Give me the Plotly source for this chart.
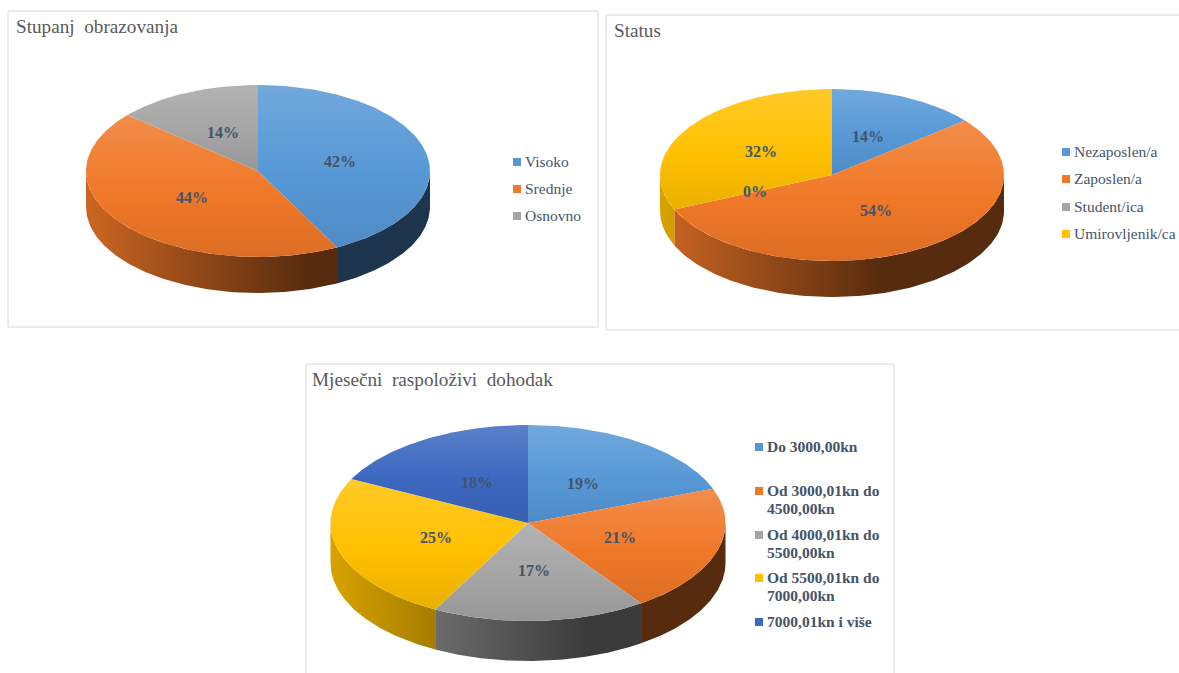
"""Three tilted 3D-look pies built on a page-sized Plotly axis."""

import numpy as np
import plotly.graph_objects as go

# ----------------------------------------------------------------------
# Data
# ----------------------------------------------------------------------
EDU_TITLE = "Stupanj\u00a0 obrazovanja"
EDU_LABELS = ["Visoko", "Srednje", "Osnovno"]
EDU_VALUES = [42.4, 43.9, 13.7]

STATUS_TITLE = "Status"
STATUS_LABELS = ["Nezaposlen/a", "Zaposlen/a", "Student/ica", "Umirovljenik/ca"]
STATUS_VALUES = [14.05, 54.4, 0.0, 31.55]

INCOME_TITLE = "Mjesečni\u00a0 raspoloživi\u00a0 dohodak"
INCOME_LABELS = [
    "Do 3000,00kn",
    "Od 3000,01kn do<br>4500,00kn",
    "Od 4000,01kn do<br>5500,00kn",
    "Od 5500,01kn do<br>7000,00kn",
    "7000,01kn i više",
]
INCOME_VALUES = [19.3, 21.0, 17.49, 24.61, 17.6]

# Office palette, in slice order.
BLUE, ORANGE, GREY, YELLOW, DARK_BLUE = (
    (86, 152, 214), (240, 120, 40), (165, 165, 165), (255, 192, 0), (60, 104, 192),
)
COLOURS = [BLUE, ORANGE, GREY, YELLOW, DARK_BLUE]

# ----------------------------------------------------------------------
# Page layout (axis units are page pixels)
# ----------------------------------------------------------------------
WIDTH, HEIGHT = 1179, 673
SERIF = "Liberation Serif"
TEXT_COLOUR = "#44546a"
LABEL_RADIUS = 0.49
LEGEND_LINE = 18

CHARTS = [
    dict(title=EDU_TITLE, labels=EDU_LABELS, values=EDU_VALUES,
         box=(8, 11, 598, 327), title_xy=(14, 26),
         cx=258, cy=171, rx=172, ry=86, depth=36,
         legend_x=517, legend_y=[161, 188, 215], legend_weight=400),
    dict(title=STATUS_TITLE, labels=STATUS_LABELS, values=STATUS_VALUES,
         box=(606, 15, 1190, 330), title_xy=(612, 30),
         cx=832, cy=175, rx=172, ry=86, depth=36,
         legend_x=1066, legend_y=[151, 178, 206, 233], legend_weight=400),
    dict(title=INCOME_TITLE, labels=INCOME_LABELS, values=INCOME_VALUES,
         box=(306, 364, 894, 690), title_xy=(310, 379),
         cx=528, cy=523, rx=197.5, ry=98, depth=40,
         legend_x=759, legend_y=[446, 490, 534, 577, 621], legend_weight=700),
]


def scale(rgb, k):
    return "rgb({},{},{})".format(*[int(min(255, c * k)) for c in rgb])


def tint(rgb, k):
    return "rgb({},{},{})".format(*[int(c + (255 - c) * k) for c in rgb])


def ellipse(chart, theta, drop=0.0):
    """Point on the pie rim; theta is clockwise from 12 o'clock, in radians."""
    return (chart["cx"] + chart["rx"] * np.sin(theta),
            chart["cy"] - chart["ry"] * np.cos(theta) + drop)


def add_walls(fig, chart, starts, ends):
    left = chart["cx"] - chart["rx"]
    right = chart["cx"] + chart["rx"]
    for i, (a, b) in enumerate(zip(starts, ends)):
        # only the front half of the rim is visible
        lo, hi = max(a, np.pi / 2), min(b, 3 * np.pi / 2)
        if hi <= lo:
            continue
        t = np.linspace(lo, hi, 120)
        xt, yt = ellipse(chart, t)
        xb, yb = ellipse(chart, t[::-1], chart["depth"])
        base = COLOURS[i]
        fig.add_trace(go.Scatter(
            x=np.r_[xt, xb], y=np.r_[yt, yb],
            mode="lines", line=dict(width=0), fill="toself",
            fillgradient=dict(
                type="horizontal", start=left, stop=right,
                colorscale=[[0, scale(base, 0.85)], [0.65, scale(base, 0.36)],
                            [1, scale(base, 0.36)]],
            ),
            hoverinfo="skip", showlegend=False,
        ))


def add_tops(fig, chart, starts, ends):
    for i, (a, b) in enumerate(zip(starts, ends)):
        if b <= a:
            continue
        t = np.linspace(a, b, 160)
        xr, yr = ellipse(chart, t)
        base = COLOURS[i]
        # the y axis is reversed, so 0 is the bottom edge of the slice
        fig.add_trace(go.Scatter(
            x=np.r_[chart["cx"], xr, chart["cx"]],
            y=np.r_[chart["cy"], yr, chart["cy"]],
            mode="lines", line=dict(width=0), fill="toself",
            fillgradient=dict(
                type="vertical",
                colorscale=[[0, scale(base, 0.92)], [0.45, scale(base, 1.0)],
                            [1, tint(base, 0.16)]],
            ),
            hovertemplate=f"{chart['labels'][i]}: {chart['values'][i]:.0f}%<extra></extra>",
            showlegend=False,
        ))


def add_value_labels(fig, chart, starts, ends):
    for a, b, v in zip(starts, ends, chart["values"]):
        mid = (a + b) / 2
        x = chart["cx"] + LABEL_RADIUS * chart["rx"] * np.sin(mid)
        y = chart["cy"] - LABEL_RADIUS * chart["ry"] * np.cos(mid)
        fig.add_annotation(
            x=x, y=y, text=f"<b>{round(v)}%</b>", showarrow=False,
            font=dict(family=SERIF, size=16, color=TEXT_COLOUR),
        )


def add_legend(fig, chart):
    fig.add_trace(go.Scatter(
        x=[chart["legend_x"]] * len(chart["labels"]), y=[y + 1 for y in chart["legend_y"]],
        mode="markers",
        marker=dict(symbol="square", size=8, color=[scale(c, 1.0) for c in COLOURS]),
        hoverinfo="skip", showlegend=False,
    ))
    for label, y in zip(chart["labels"], chart["legend_y"]):
        # one annotation per line: the source leading is tighter than Plotly's
        for n, line in enumerate(label.split("<br>")):
            fig.add_annotation(
                x=chart["legend_x"] + 6, y=y + n * LEGEND_LINE, text=line,
                showarrow=False, xanchor="left", align="left",
                font=dict(family=SERIF, size=15.5, color=TEXT_COLOUR,
                          weight=chart["legend_weight"]),
            )


fig = go.Figure()

for chart in CHARTS:
    x0, y0, x1, y1 = chart["box"]
    fig.add_shape(type="rect", x0=x0, y0=y0, x1=x1, y1=y1,
                  line=dict(color="#d9d9d9", width=1), fillcolor="white", layer="below")
    fig.add_annotation(
        x=chart["title_xy"][0], y=chart["title_xy"][1], text=chart["title"],
        showarrow=False, xanchor="left",
        font=dict(family=SERIF, size=19.2, color="#595959"),
    )
    shares = np.array(chart["values"], dtype=float)
    edges = np.r_[0, np.cumsum(shares)] / shares.sum() * 2 * np.pi
    add_walls(fig, chart, edges[:-1], edges[1:])
    add_tops(fig, chart, edges[:-1], edges[1:])
    add_value_labels(fig, chart, edges[:-1], edges[1:])
    add_legend(fig, chart)

fig.update_layout(
    width=WIDTH, height=HEIGHT,
    margin=dict(l=0, r=0, t=0, b=0),
    paper_bgcolor="white", plot_bgcolor="white",
)
fig.update_xaxes(range=[0, WIDTH], visible=False)
fig.update_yaxes(range=[HEIGHT, 0], visible=False)

fig.write_html(
    "out.html",
    config=dict(displayModeBar=False),
    post_script="document.body.style.margin='0';document.body.style.overflow='hidden';",
)
